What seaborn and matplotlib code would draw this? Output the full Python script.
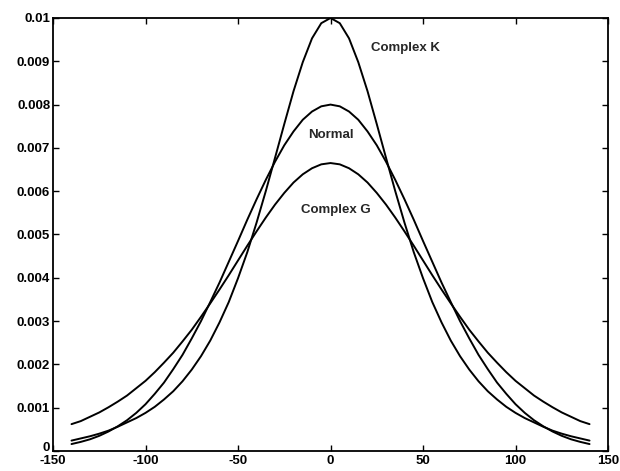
import numpy as np
import pandas as pd
import matplotlib
matplotlib.use("Agg")
import matplotlib.pyplot as plt
import seaborn as sns

# values (curves are symmetric about x = 0)
x_half = [0, 5, 10, 15, 20, 25, 30, 35, 40, 45, 50, 55, 60, 65, 70,
          75, 80, 85, 90, 95, 100, 105, 110, 115, 120, 125, 130, 135, 140]
normal_half = [0.00800, 0.00796, 0.00784, 0.00765, 0.00738, 0.00706, 0.00668, 0.00626,
               0.00581, 0.00534, 0.00485, 0.00437, 0.00389, 0.00344, 0.00300,
               0.00260, 0.00222, 0.00189, 0.00158, 0.00132, 0.00108, 0.00088,
               0.00071, 0.00057, 0.00045, 0.00035, 0.00027, 0.00021, 0.00016]
complex_k_half = [0.01000, 0.00988, 0.00953, 0.00898, 0.00831, 0.00755, 0.00677, 0.00600,
                  0.00527, 0.00459, 0.00399, 0.00344, 0.00297, 0.00255, 0.00219,
                  0.00188, 0.00161, 0.00138, 0.00119, 0.00102, 0.00088, 0.00076,
                  0.00066, 0.00056, 0.00047, 0.00040, 0.00034, 0.00029, 0.00024]
complex_g_half = [0.00665, 0.00662, 0.00653, 0.00639, 0.00620, 0.00596, 0.00569, 0.00539,
                  0.00507, 0.00474, 0.00440, 0.00406, 0.00373, 0.00341, 0.00310,
                  0.00280, 0.00253, 0.00227, 0.00204, 0.00182, 0.00162, 0.00145,
                  0.00128, 0.00114, 0.00101, 0.00089, 0.00079, 0.00069, 0.00062]

x_ticks = [-150, -100, -50, 0, 50, 100, 150]
y_ticks = [0, 0.001, 0.002, 0.003, 0.004, 0.005, 0.006, 0.007, 0.008, 0.009, 0.01]
y_tick_labels = ["0", "0.001", "0.002", "0.003", "0.004", "0.005",
                 "0.006", "0.007", "0.008", "0.009", "0.01"]


def mirror(vals):
    return list(vals[:0:-1]) + list(vals)


x_full = [-v for v in x_half[:0:-1]] + x_half

frames = []
for name, vals in [("Normal", normal_half), ("Complex K", complex_k_half),
                   ("Complex G", complex_g_half)]:
    frames.append(pd.DataFrame({"x": x_full, "y": mirror(vals), "curve": name}))
df = pd.concat(frames, ignore_index=True)

sns.set_style("ticks")
plt.rcParams["font.family"] = ["Liberation Sans", "DejaVu Sans"]

fig = plt.figure(figsize=(6.2, 4.71), dpi=100)
ax = fig.add_axes([0.0855, 0.0425, 0.8952, 0.9193])

sns.lineplot(data=df, x="x", y="y", hue="curve", estimator=None, sort=False,
             palette=["black", "black", "black"], linewidth=1.4, legend=False, ax=ax)

ax.set_xlim(-150, 150)
ax.set_ylim(0, 0.01)
ax.set_xticks(x_ticks)
ax.set_xticklabels([str(t) for t in x_ticks], fontsize=9.5, fontweight="bold")
ax.set_yticks(y_ticks)
ax.set_yticklabels(y_tick_labels, fontsize=9.5, fontweight="bold")
# the "0" sits just above "-150" like in the original
ax.get_yticklabels()[0].set_verticalalignment("baseline")
ax.set_xlabel("")
ax.set_ylabel("")
ax.tick_params(direction="in", top=True, right=True, length=4, width=1,
               pad=2, colors="black")
ax.tick_params(axis="x", pad=3)
for sp in ax.spines.values():
    sp.set_visible(True)
    sp.set_linewidth(1.3)
    sp.set_color("black")

ax.text(22, 0.0093, "Complex K", fontsize=9.5, fontweight="bold", va="center", ha="left")
ax.text(0, 0.00729, "Normal", fontsize=9.5, fontweight="bold", va="center", ha="center")
ax.text(-16, 0.00556, "Complex G", fontsize=9.5, fontweight="bold", va="center", ha="left")

fig.savefig("out.png", dpi=100)
